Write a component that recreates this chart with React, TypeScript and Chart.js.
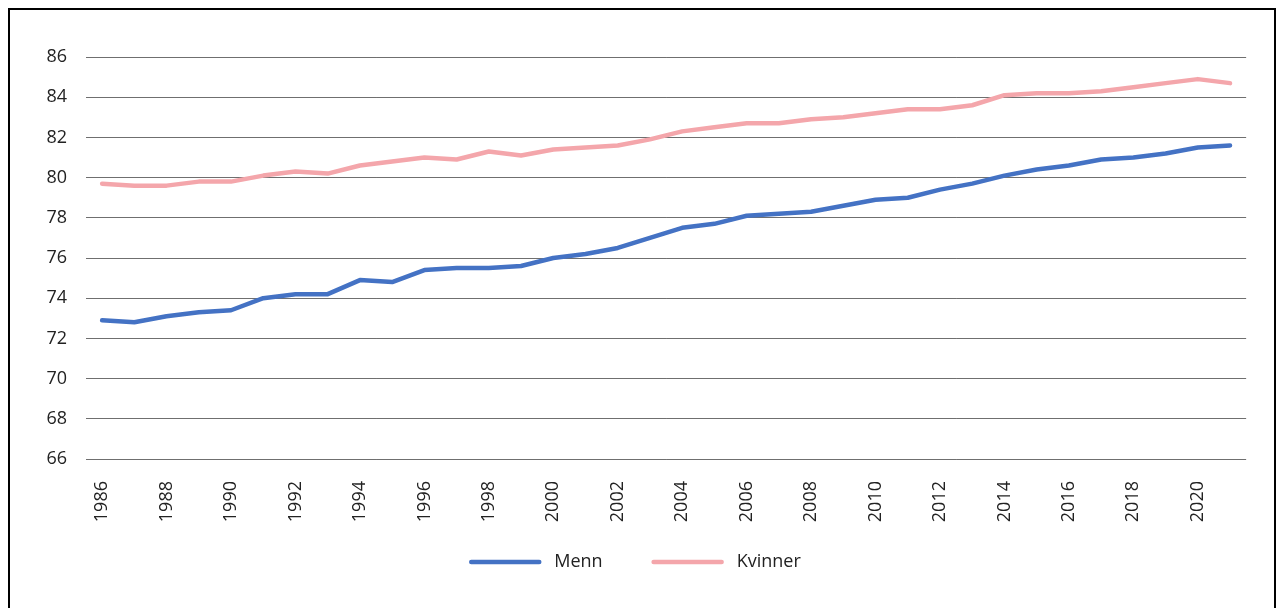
import React, { useEffect, useRef } from "react";
import { Chart, registerables } from "chart.js";

Chart.register(...registerables);

const years: string[] = [
  "1986", "1987", "1988", "1989", "1990", "1991", "1992", "1993", "1994", "1995",
  "1996", "1997", "1998", "1999", "2000", "2001", "2002", "2003", "2004", "2005",
  "2006", "2007", "2008", "2009", "2010", "2011", "2012", "2013", "2014", "2015",
  "2016", "2017", "2018", "2019", "2020", "2021",
];

const menn: number[] = [
  72.9, 72.8, 73.1, 73.3, 73.4, 74.0, 74.2, 74.2, 74.9, 74.8,
  75.4, 75.5, 75.5, 75.6, 76.0, 76.2, 76.5, 77.0, 77.5, 77.7,
  78.1, 78.2, 78.3, 78.6, 78.9, 79.0, 79.4, 79.7, 80.1, 80.4,
  80.6, 80.9, 81.0, 81.2, 81.5, 81.6,
];

const kvinner: number[] = [
  79.7, 79.6, 79.6, 79.8, 79.8, 80.1, 80.3, 80.2, 80.6, 80.8,
  81.0, 80.9, 81.3, 81.1, 81.4, 81.5, 81.6, 81.9, 82.3, 82.5,
  82.7, 82.7, 82.9, 83.0, 83.2, 83.4, 83.4, 83.6, 84.1, 84.2,
  84.2, 84.3, 84.5, 84.7, 84.9, 84.7,
];

const seriesNames: string[] = ["Menn", "Kvinner"];
const yMin = 66;
const yMax = 86;
const yStep = 2;

const FONT = "'Open Sans', 'Noto Sans', sans-serif";
const TEXT = "#222";

// Legend drawn below the axis: line sample, gap, label, gap to next item
const legendPlugin = {
  id: "bottomLegend",
  afterDraw(chart: any) {
    const ctx = chart.ctx;
    const lineLen = 72;
    const gapText = 13;
    const gapItem = 49;
    const y = 552;
    ctx.save();
    ctx.font = `18px ${FONT}`;
    const items = chart.data.datasets.map((ds: any) => ({
      text: ds.label as string,
      color: ds.borderColor as string,
      w: ctx.measureText(ds.label).width,
    }));
    const total =
      items.reduce((s: number, it: any) => s + lineLen + gapText + it.w, 0) +
      gapItem * (items.length - 1);
    let x = chart.width / 2 - total / 2 - 7;
    for (const it of items) {
      ctx.beginPath();
      ctx.strokeStyle = it.color;
      ctx.lineWidth = 4.5;
      ctx.lineCap = "round";
      ctx.moveTo(x + 2, y);
      ctx.lineTo(x + lineLen - 2, y);
      ctx.stroke();
      x += lineLen + gapText;
      ctx.fillStyle = TEXT;
      ctx.textAlign = "left";
      ctx.textBaseline = "middle";
      ctx.fillText(it.text, x, y);
      x += it.w + gapItem;
    }
    ctx.restore();
  },
};

export default function App() {
  const ref = useRef<HTMLCanvasElement | null>(null);

  useEffect(() => {
    if (!ref.current) return;
    const chart = new Chart(ref.current, {
      type: "line",
      data: {
        labels: years,
        datasets: [
          {
            label: seriesNames[0],
            data: menn,
            borderColor: "#4472C4",
            backgroundColor: "#4472C4",
            borderWidth: 4.5,
            pointRadius: 0,
            tension: 0,
            borderCapStyle: "round",
            borderJoinStyle: "round",
          },
          {
            label: seriesNames[1],
            data: kvinner,
            borderColor: "#F4A6AB",
            backgroundColor: "#F4A6AB",
            borderWidth: 4.5,
            pointRadius: 0,
            tension: 0,
            borderCapStyle: "round",
            borderJoinStyle: "round",
          },
        ],
      },
      plugins: [legendPlugin],
      options: {
        animation: false,
        responsive: true,
        maintainAspectRatio: false,
        layout: { padding: { top: 47, right: 26, left: 0, bottom: 81 } },
        plugins: {
          tooltip: { enabled: false },
          legend: { display: false },
        },
        scales: {
          x: {
            offset: true,
            grid: { display: false, drawTicks: false },
            border: { display: false },
            ticks: {
              autoSkip: false,
              minRotation: 90,
              maxRotation: 90,
              padding: 22,
              color: TEXT,
              font: { family: FONT, size: 18 },
              callback: (_v: any, i: number) => (i % 2 === 0 ? years[i] : ""),
            },
            afterFit: (s: any) => {
              s.height = 70;
            },
          },
          y: {
            min: yMin,
            max: yMax,
            grid: { color: "#6f6f6f", lineWidth: 1, drawTicks: false },
            border: { display: false },
            ticks: {
              stepSize: yStep,
              padding: 19,
              color: TEXT,
              font: { family: FONT, size: 18 },
            },
            afterFit: (s: any) => {
              s.width = 76;
            },
          },
        },
      },
    });
    return () => chart.destroy();
  }, []);

  return (
    <div
      style={{
        width: 1268,
        height: 612,
        border: "2px solid #000",
        boxSizing: "border-box",
        position: "relative",
        background: "#fff",
      }}
    >
      <div style={{ width: 1264, height: 600, position: "relative" }}>
        <canvas ref={ref} />
      </div>
    </div>
  );
}
